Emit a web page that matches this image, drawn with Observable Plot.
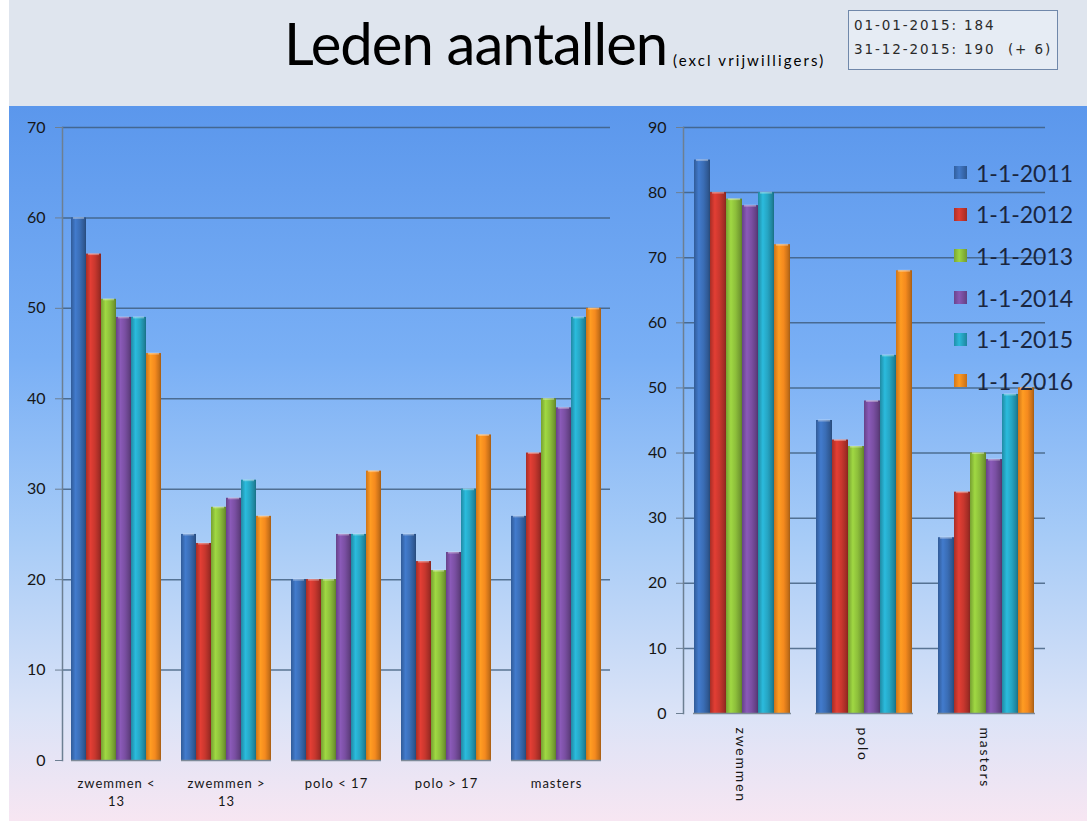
<!DOCTYPE html>
<html>
<head>
<meta charset="utf-8">
<script src="https://cdn.jsdelivr.net/npm/d3@7"></script>
<script src="https://cdn.jsdelivr.net/npm/@observablehq/plot@0.6"></script>
<style>
  body { margin: 0; width: 1087px; height: 821px; overflow: hidden; background: #ffffff; font-family: Lato, "Open Sans", sans-serif; }
  #header { position: absolute; left: 9px; top: 0; width: 1078px; height: 106px; background: #dfe5ee; }
  #panel { position: absolute; left: 9px; top: 106px; width: 1078px; height: 715px;
    background: linear-gradient(to bottom, #5b97ec 0%, #79aff5 35%, #a6cbf7 60%, #dbe3f7 85%, #f7e6f2 100%); }
  #title { position: absolute; left: 284px; top: 8px; font-size: 58px; color: #000; white-space: nowrap; letter-spacing: -1px; }
  #subtitle { position: absolute; left: 673px; top: 51px; font-size: 15px; letter-spacing: 2.1px; color: #000; white-space: nowrap; }
  #info { position: absolute; left: 848px; top: 10px; width: 210px; height: 60px; border: 1px solid #7088aa; background: #e6ecf4;
    font-family: "DejaVu Sans", sans-serif; font-size: 13.5px; letter-spacing: 1.9px; color: #2a2a2a; box-sizing: border-box; padding: 2px 0 0 5px; line-height: 24px; white-space: nowrap; }
  .layer { position: absolute; top: 106px; }
  #left g[aria-label="fx-axis tick label"] { letter-spacing: 1px; }
  #right g[aria-label="fx-axis tick label"] { letter-spacing: 1.8px; }
  #legend { position: absolute; left: 954px; top: 152px; }
  .item { height: 41.6px; display: flex; align-items: center; font-size: 23px; color: #1a2640; }
  .sw { width: 13px; height: 13px; margin-right: 9px; }
</style>
</head>
<body>
<div id="header"></div>
<div id="panel"></div>
<div id="title">Leden aantallen</div>
<div id="subtitle">(excl vrijwilligers)</div>
<div id="info">01-01-2015: 184<br>31-12-2015: 190&nbsp;&nbsp;(+ 6)</div>
<div id="leftBg" class="layer" style="left:0"></div>
<div id="left" class="layer" style="left:0"></div>
<div id="rightBg" class="layer" style="left:625px"></div>
<div id="right" class="layer" style="left:625px"></div>
<div id="legend"></div>
<script>
// ---- data ----
const years = ["1-1-2011", "1-1-2012", "1-1-2013", "1-1-2014", "1-1-2015", "1-1-2016"];
const colors = ["#3a6db5", "#c8372e", "#8dbf3b", "#7a4fa2", "#26a5c3", "#f58a1e"];

const leftGroups = ["zwemmen < 13", "zwemmen > 13", "polo < 17", "polo > 17", "masters"];
const leftLabels = ["zwemmen <\n13", "zwemmen >\n13", "polo < 17", "polo > 17", "masters"];
const zwemmenOnder13 = [60, 56, 51, 49, 49, 45];
const zwemmenBoven13 = [25, 24, 28, 29, 31, 27];
const poloOnder17 = [20, 20, 20, 25, 25, 32];
const poloBoven17 = [25, 22, 21, 23, 30, 36];
const masters = [27, 34, 40, 39, 49, 50];

const rightGroups = ["zwemmen", "polo", "masters"];
const zwemmenTotaal = [85, 80, 79, 78, 80, 72];
const poloTotaal = [45, 42, 41, 48, 55, 68];
const mastersTotaal = [27, 34, 40, 39, 49, 50];

const leftTicks = [0, 10, 20, 30, 40, 50, 60, 70];
const rightTicks = [0, 10, 20, 30, 40, 50, 60, 70, 80, 90];

// ---- tidy tables ----
function tidy(groups, series) {
  const out = [];
  groups.forEach((g, gi) => series[gi].forEach((v, yi) => out.push({group: g, year: years[yi], value: v})));
  return out;
}
const leftData = tidy(leftGroups, [zwemmenOnder13, zwemmenBoven13, poloOnder17, poloBoven17, masters]);
const rightData = tidy(rightGroups, [zwemmenTotaal, poloTotaal, mastersTotaal]);

const gradIds = years.map((_, i) => `url(#bar${i})`);

function addDefs(svg) {
  const ns = "http://www.w3.org/2000/svg";
  const defs = document.createElementNS(ns, "defs");
  colors.forEach((c, i) => {
    const g = document.createElementNS(ns, "linearGradient");
    g.setAttribute("id", `bar${i}`);
    g.setAttribute("x1", "0"); g.setAttribute("x2", "1"); g.setAttribute("y1", "0"); g.setAttribute("y2", "0");
    const base = d3.color(c);
    [[0, base.darker(0.5)], [0.3, base.brighter(0.35)], [0.6, base], [0.88, base.darker(0.6)], [1, base.darker(1.1)]].forEach(([o, col]) => {
      const s = document.createElementNS(ns, "stop");
      s.setAttribute("offset", o);
      s.setAttribute("stop-color", col.formatHex());
      g.appendChild(s);
    });
    defs.appendChild(g);
  });
  svg.insertBefore(defs, svg.firstChild);
  return svg;
}

const fontFamily = "Lato, 'Open Sans', sans-serif";

// background layer: gridlines, value axis, axis lines
function background({ticks, width, height, marginLeft, marginRight, marginBottom, tickPadding}) {
  const yMax = ticks[ticks.length - 1];
  return Plot.plot({
    width, height, marginTop: 21, marginLeft, marginRight, marginBottom,
    style: {background: "transparent", fontFamily, color: "#161616", overflow: "visible"},
    x: {domain: [0, 1], axis: null},
    y: {domain: [0, yMax], axis: null},
    marks: [
      Plot.ruleY(ticks.slice(1), {stroke: "#3d5a79", strokeWidth: 1.5, strokeOpacity: 0.8}),
      Plot.frame({anchor: "left", stroke: "#6d7f92", strokeWidth: 1.5}),
      Plot.axisY({ticks, tickSize: 7, tickPadding, fontSize: 16, stroke: "#6d7f92", label: null})
    ]
  });
}

// bar layer: grouped bars, category axis
function bars({data, groups, labels, ticks, width, height, marginLeft, marginRight, marginBottom, paddingInner, rotate}) {
  const yMax = ticks[ticks.length - 1];
  return addDefs(Plot.plot({
    width, height, marginTop: 21, marginLeft, marginRight, marginBottom,
    style: {background: "transparent", fontFamily, color: "#161616", overflow: "visible"},
    x: {domain: years, padding: 0, axis: null},
    fx: {domain: groups, paddingInner, paddingOuter: 0.08, axis: null},
    y: {domain: [0, yMax], axis: null},
    color: {domain: years, range: gradIds},
    facet: {data, x: "group"},
    marks: [
      Plot.barY(data, {x: "year", y: "value", fill: "year", inset: 0}),
      Plot.tickY(data, {x: "year", y: "value", stroke: "#ffffff", strokeOpacity: 0.35, strokeWidth: 2, insetLeft: 2, insetRight: 2}),
      Plot.ruleY([0], {stroke: "#7d8a98", strokeWidth: 1.5}),
      Plot.axisFx({
        anchor: "bottom",
        tickSize: 0, tickPadding: rotate ? 14 : 15, fontSize: rotate ? 14 : 13, lineHeight: 1.35, label: null,
        tickRotate: rotate ? 90 : 0,
        tickFormat: (d) => labels[groups.indexOf(d)]
      })
    ]
  }));
}

const leftOpts = {data: leftData, groups: leftGroups, labels: leftLabels, ticks: leftTicks,
  width: 625, height: 715, marginLeft: 62, marginRight: 15, marginBottom: 61,
  paddingInner: 0.18, tickPadding: 10, rotate: false};
const rightOpts = {data: rightData, groups: rightGroups, labels: rightGroups, ticks: rightTicks,
  width: 462, height: 715, marginLeft: 58, marginRight: 42, marginBottom: 108,
  paddingInner: 0.2, tickPadding: 10, rotate: true};

document.getElementById("leftBg").appendChild(background(leftOpts));
document.getElementById("left").appendChild(bars(leftOpts));
document.getElementById("rightBg").appendChild(background(rightOpts));
document.getElementById("right").appendChild(bars(rightOpts));

// legend
const legend = document.getElementById("legend");
years.forEach((y, i) => {
  const row = document.createElement("div");
  row.className = "item";
  const sw = document.createElement("div");
  sw.className = "sw";
  const c = d3.color(colors[i]);
  sw.style.background = `linear-gradient(to right, ${c.darker(0.4).formatHex()}, ${c.brighter(0.3).formatHex()} 40%, ${c.darker(0.6).formatHex()})`;
  row.appendChild(sw);
  row.appendChild(document.createTextNode(y));
  legend.appendChild(row);
});
</script>
</body>
</html>
